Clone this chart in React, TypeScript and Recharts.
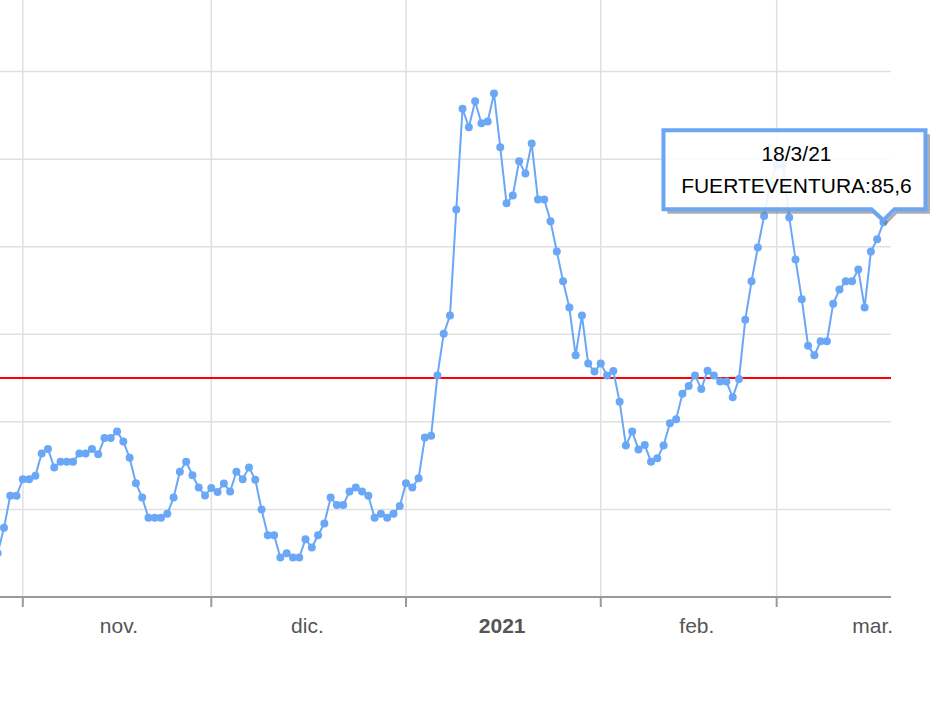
import React from 'react';
import { LineChart, Line, XAxis, YAxis, CartesianGrid, ReferenceLine, ReferenceDot } from 'recharts';

// ---- data ----
const startDate = '2020-10-28';
const seriesName = 'FUERTEVENTURA';
const incidence = [
  10.0, 15.8, 23.1, 23.1, 26.9, 26.9, 27.7, 32.8, 33.8, 29.6,
  30.9, 30.9, 30.9, 32.8, 32.8, 33.8, 32.6, 36.3, 36.3, 37.8,
  35.5, 31.8, 26.0, 22.7, 18.1, 18.1, 18.1, 19.0, 22.7, 28.6,
  30.9, 27.8, 25.0, 23.2, 24.9, 24.0, 25.9, 24.1, 28.6, 26.9,
  29.6, 26.8, 20.0, 14.1, 14.1, 9.0, 10.0, 9.0, 9.0, 13.2,
  11.3, 14.1, 16.8, 22.7, 21.0, 21.0, 24.1, 25.0, 24.1, 23.1,
  18.1, 19.0, 18.1, 19.0, 20.8, 26.0, 25.0, 27.1, 36.4, 36.8,
  50.6, 60.1, 64.3, 88.5, 111.5, 107.3, 113.2, 108.2, 108.6, 115.0,
  102.7, 89.9, 91.7, 99.5, 96.7, 103.6, 90.8, 90.8, 85.8, 78.9,
  72.1, 66.1, 55.2, 64.3, 53.3, 51.5, 53.3, 50.6, 51.6, 44.6,
  34.6, 37.8, 33.7, 34.7, 30.9, 31.7, 34.6, 39.7, 40.6, 46.4,
  48.2, 50.6, 47.5, 51.7, 50.6, 49.2, 49.2, 45.6, 49.8, 63.3,
  72.1, 79.8, 87.0, 94.6, 98.7, 98.7, 86.7, 77.1, 68.0, 57.4,
  55.2, 58.4, 58.4, 67.0, 70.2, 72.1, 72.1, 74.8, 66.1, 78.9,
  81.7, 85.6,
];
const monthStarts = ['2020-11-01', '2020-12-01', '2021-01-01', '2021-02-01', '2021-03-01'];
const monthLabels = ['nov.', 'dic.', '2021', 'feb.', 'mar.'];
const boldLabels = ['2021'];
const yTicks = [0, 20, 40, 60, 80, 100, 120, 140];
const threshold = 50;

// ---- derived ----
const DAY = 86400000;
const t0 = Date.parse(startDate + 'T00:00:00Z');
const toIndex = (s: string) => Math.round((Date.parse(s + 'T00:00:00Z') - t0) / DAY);
const data = incidence.map((v, i) => ({ i, v }));
const monthTicks = monthStarts.map(toIndex);
const labelTicks = monthTicks.map((t) => t + 15.3);
const lastIdx = incidence.length - 1;
const lastVal = incidence[lastIdx];
const lastDate = new Date(t0 + lastIdx * DAY);
const lastDateLabel = `${lastDate.getUTCDate()}/${lastDate.getUTCMonth() + 1}/${String(lastDate.getUTCFullYear()).slice(2)}`;
const lastValLabel = String(lastVal.toFixed(1)).replace('.', ',');

const FONT = '"Liberation Sans", Arial, sans-serif';
const LINE = '#6aa8f7';
const BORDER = '#6ba6f5';
const GRID = '#e0e0e0';

const EmptyTick = () => <g />;

const MonthTick = (props: any) => {
  const { x, y, index } = props;
  const label = monthLabels[index];
  return (
    <text
      x={x}
      y={y + 26}
      textAnchor="middle"
      fill="#555"
      fontFamily={FONT}
      fontSize={21}
      fontWeight={boldLabels.includes(label) ? 700 : 400}
    >
      {label}
    </text>
  );
};

const Callout = (props: any) => {
  const { cx, cy } = props;
  const L = cx - 220;
  const R = cx + 42;
  const T = cy - 92;
  const B = cy - 13;
  const path = `M${L},${T} H${R} V${B} H${cx + 11} L${cx},${cy - 2} L${cx - 12},${B} H${L} Z`;
  const shadow = `M${R + 3},${T + 4} V${B + 3} H${cx + 13} L${cx + 2},${cy + 1} L${cx - 10},${B + 3} H${L + 4}`;
  return (
    <g>
      <path d={shadow} fill="none" stroke="#777" strokeOpacity={0.6} strokeWidth={3} />
      <path d={path} fill="#fff" fillOpacity={0.88} stroke={BORDER} strokeWidth={4} strokeLinejoin="miter" />
      <text x={cx - 87} y={cy - 61} textAnchor="middle" fill="#000" fontFamily={FONT} fontSize={21}>
        {lastDateLabel}
      </text>
      <text x={cx - 87} y={cy - 29} textAnchor="middle" fill="#000" fontFamily={FONT} fontSize={21}>
        {`${seriesName}:${lastValLabel}`}
      </text>
    </g>
  );
};

export default function App() {
  return (
    <div style={{ position: 'absolute', left: -40, top: -16 }}>
      <LineChart width={991} height={663} data={data} margin={{ top: 0, right: 60, bottom: 0, left: 0 }}>
        <CartesianGrid stroke={GRID} strokeWidth={1.5} vertical={false} />
        {monthTicks.map((t) => (
          <ReferenceLine key={t} x={t} stroke={GRID} strokeWidth={1.5} />
        ))}
        <YAxis hide type="number" domain={[0, 140]} ticks={yTicks} />
        <XAxis
          dataKey="i"
          type="number"
          domain={[-6, 142.2]}
          allowDataOverflow
          ticks={monthTicks}
          interval={0}
          tick={EmptyTick}
          tickSize={10}
          height={10}
          axisLine={{ stroke: '#9a9a9a', strokeWidth: 2 }}
          tickLine={{ stroke: '#9a9a9a', strokeWidth: 2 }}
        />
        <XAxis
          xAxisId="lbl"
          dataKey="i"
          type="number"
          domain={[-6, 142.2]}
          allowDataOverflow
          ticks={labelTicks}
          interval={0}
          tick={<MonthTick />}
          tickSize={0}
          tickMargin={0}
          height={40}
          axisLine={false}
          tickLine={false}
        />
        <ReferenceLine y={threshold} stroke="#ff0000" strokeWidth={2} />
        <Line
          type="linear"
          dataKey="v"
          stroke={LINE}
          strokeWidth={2}
          dot={{ r: 4, fill: LINE, stroke: 'none' }}
          activeDot={false}
          isAnimationActive={false}
        />
        <ReferenceDot x={lastIdx} y={lastVal} r={0} ifOverflow="visible" shape={<Callout />} />
      </LineChart>
    </div>
  );
}
